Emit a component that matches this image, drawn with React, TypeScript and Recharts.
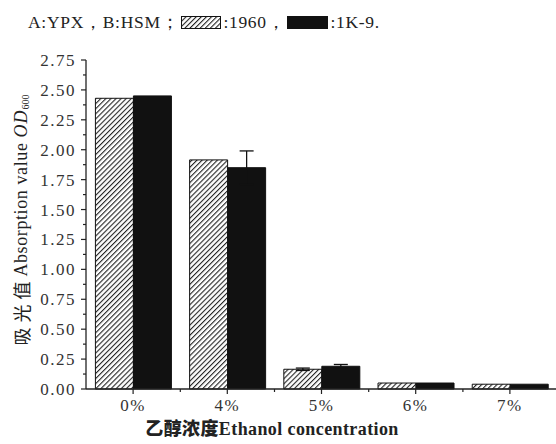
import { BarChart, Bar, XAxis, YAxis, ErrorBar, Label } from "recharts";

const categories = ["0%", "4%", "5%", "6%", "7%"];
const strain1960 = [2.43, 1.915, 0.165, 0.05, 0.04];
const strain1K9 = [2.45, 1.85, 0.19, 0.05, 0.04];
const err1960 = [0, 0, 0.01, 0, 0];
const err1K9 = [0, 0.14, 0.015, 0, 0];
const yTicks = [0, 0.125, 0.25, 0.375, 0.5, 0.625, 0.75, 0.875, 1, 1.125, 1.25, 1.375, 1.5, 1.625, 1.75, 1.875, 2, 2.125, 2.25, 2.375, 2.5, 2.625, 2.75];

const data = categories.map((name, i) => ({
  name,
  s1960: strain1960[i],
  s1K9: strain1K9[i],
  e1960: err1960[i],
  e1K9: err1K9[i],
}));

const serif = '"Liberation Serif", "Times New Roman", serif';
const cjk = '"Noto Sans CJK SC", sans-serif';
const ink = "#222";

const YTick = ({ x, y, payload }: any) => {
  const ax = x + 10;
  const major = Math.abs(payload.value * 4 - Math.round(payload.value * 4)) < 1e-6;
  return (
    <g>
      <line x1={ax - (major ? 5 : 3)} x2={ax} y1={y} y2={y} stroke={ink} strokeWidth={1.2} />
      {major && (
        <text x={ax - 10} y={y} dy={6} textAnchor="end" style={{ fontFamily: serif, fontSize: 17, letterSpacing: 1.5 }} fill="#333">
          {payload.value.toFixed(2)}
        </text>
      )}
    </g>
  );
};

const XTick = ({ x, y, payload, index }: any) => {
  const ay = y - 14;
  const half = 47.2;
  return (
    <g>
      <line x1={x} x2={x} y1={ay} y2={ay + 5} stroke={ink} strokeWidth={1.2} />
      {index < categories.length - 1 && (
        <line x1={x + half} x2={x + half} y1={ay} y2={ay + 3} stroke={ink} strokeWidth={1.2} />
      )}
      <text x={x} y={ay + 22} textAnchor="middle" style={{ fontFamily: serif, fontSize: 17, letterSpacing: 1.5 }} fill="#333">
        {payload.value}
      </text>
    </g>
  );
};

const YTitle = () => (
  <text
    x={21}
    y={220}
    transform="rotate(-90, 21, 220)"
    textAnchor="middle"
    dominantBaseline="central"
    style={{ fontFamily: serif, fontSize: 18 }}
    fill={ink}
  >
    <tspan style={{ fontFamily: cjk, letterSpacing: 5 }}>吸光值</tspan>
    <tspan style={{ letterSpacing: 0.6 }}>Absorption value </tspan>
    <tspan style={{ fontStyle: "italic", letterSpacing: 1 }}>OD</tspan>
    <tspan style={{ fontSize: 10 }} dy={4}>600</tspan>
  </text>
);

const XTitle = () => (
  <text x={272} y={435} textAnchor="middle" style={{ fontFamily: serif, fontSize: 18, fontWeight: "bold", letterSpacing: 0.4 }} fill={ink}>
    <tspan style={{ fontFamily: cjk, fontWeight: 900 }}>乙醇浓度</tspan>Ethanol concentration
  </text>
);

function HatchBox() {
  return (
    <svg width={40} height={13} style={{ verticalAlign: "-1px", margin: "0 2px" }}>
      <defs>
        <pattern id="hatchLegend" width={3.6} height={3.6} patternUnits="userSpaceOnUse" patternTransform="rotate(45)">
          <rect width={3.6} height={3.6} fill="#fff" />
          <line x1={0} y1={0} x2={0} y2={3.6} stroke="#222" strokeWidth={2.2} />
        </pattern>
      </defs>
      <rect x={0.5} y={0.5} width={39} height={12} fill="url(#hatchLegend)" stroke="#111" />
    </svg>
  );
}

function App() {
  return (
    <div style={{ position: "absolute", left: 0, top: 0, width: 556, height: 444, background: "#fff" }}>
      <div
        style={{
          position: "absolute",
          left: 28,
          top: 10,
          fontFamily: serif,
          fontSize: 17.5,
          color: ink,
          whiteSpace: "nowrap",
          letterSpacing: 0.7,
        }}
      >
        A:YPX，B:HSM；<HatchBox />:1960，
        <svg width={41} height={13} style={{ verticalAlign: "-1px", margin: "0 2px" }}>
          <rect x={0} y={0} width={41} height={13} fill="#111" />
        </svg>
        :1K-9.
      </div>
      <BarChart
        width={556}
        height={444}
        data={data}
        margin={{ top: 60, right: -1, left: 0, bottom: 25 }}
        barCategoryGap="10%"
        barGap={0}
      >
        <defs>
          <pattern id="hatch" width={3.6} height={3.6} patternUnits="userSpaceOnUse" patternTransform="rotate(45)">
            <rect width={3.6} height={3.6} fill="#fff" />
            <line x1={0} y1={0} x2={0} y2={3.6} stroke="#222" strokeWidth={2.2} />
          </pattern>
        </defs>
        <XAxis
          dataKey="name"
          height={30}
          tick={<XTick />}
          tickLine={false}
          tickSize={0}
          tickMargin={14}
          interval={0}
          axisLine={{ stroke: ink, strokeWidth: 1.3 }}
        >
          <Label content={<XTitle />} />
        </XAxis>
        <YAxis
          domain={[0, 2.75]}
          ticks={yTicks}
          interval={0}
          width={86}
          tick={<YTick />}
          tickLine={false}
          tickSize={0}
          tickMargin={10}
          axisLine={{ stroke: ink, strokeWidth: 1.3 }}
        >
          <Label content={<YTitle />} />
        </YAxis>
        <Bar dataKey="s1960" fill="url(#hatch)" stroke="#111" strokeWidth={1} isAnimationActive={false}>
          <ErrorBar dataKey="e1960" width={7} stroke="#111" strokeWidth={1.3} />
        </Bar>
        <Bar dataKey="s1K9" fill="#111" stroke="#111" strokeWidth={1} isAnimationActive={false}>
          <ErrorBar dataKey="e1K9" width={7} stroke="#111" strokeWidth={1.3} />
        </Bar>
      </BarChart>
    </div>
  );
}

export default App;
